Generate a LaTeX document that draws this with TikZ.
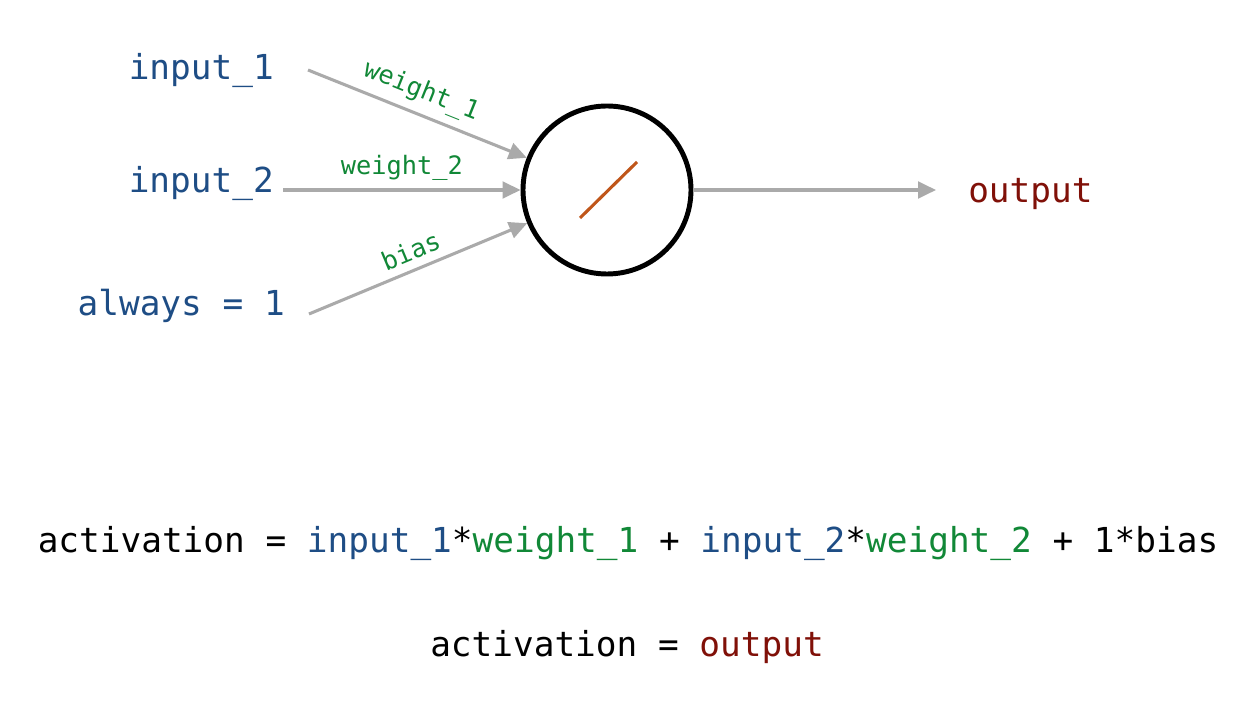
\documentclass[tikz,border=0pt]{standalone}
\usepackage{fontspec}
\setmonofont{DejaVu Sans Mono}
\usetikzlibrary{arrows.meta}
\definecolor{inblue}{RGB}{30,77,133}
\definecolor{wgreen}{RGB}{17,136,55}
\definecolor{outred}{RGB}{128,16,8}
\definecolor{fnorange}{RGB}{192,86,26}
\definecolor{edgegray}{RGB}{170,170,170}
\tikzset{
  big/.style={font=\ttfamily\fontsize{25.8}{30}\selectfont, inner sep=0pt},
  small/.style={font=\ttfamily\fontsize{19}{22}\selectfont, inner sep=0pt, text=wgreen},
  edge/.style={draw=edgegray, line width=2.3pt, -{Triangle[length=13.5pt,width=12.5pt]}},
  neuron/.style={circle, draw=black, line width=3.7pt, minimum size=126pt, inner sep=0pt}
}
\begin{document}
\begin{tikzpicture}[x=0.75pt,y=-0.75pt]
\useasboundingbox[fill=white] (0,0) rectangle (1254,712);

% input labels
\node[big, text=inblue, anchor=base east] (in1) at (274,80) {input\_1};
\node[big, text=inblue, anchor=base east] (in2) at (274,193) {input\_2};
\node[big, text=inblue, anchor=base east] (in3) at (285,316) {always = 1};

% arrow start points
\coordinate (s1) at (308,70);
\coordinate (s2) at (283,190);
\coordinate (s3) at (309,314);

% the neuron with its linear activation
\node[neuron] (n) at (607,190) {};
\draw[fnorange, line width=2.3pt] (580,218) -- (637,162);

% weighted connections
\draw[edge] (s1) -- (n) node[small, pos=0.48, above=6pt, sloped] (w1) {weight\_1};
\draw[edge] (s2) -- (n) node[small, pos=0.5, above=6pt] (w2) {weight\_2};
\draw[edge] (s3) -- (n) node[small, pos=0.5, above=6pt, sloped] (b) {bias};

% output
\coordinate (o) at (936,190);
\draw[edge] (n) -- (o);
\node[big, text=outred, anchor=base west] (out) at (968,203) {output};

% equations
\node[big, anchor=base] (eq1) at (628,553) {activation = \textcolor{inblue}{input\_1}*\textcolor{wgreen}{weight\_1} + \textcolor{inblue}{input\_2}*\textcolor{wgreen}{weight\_2} + 1*bias};
\node[big, anchor=base] (eq2) at (627,657) {activation = \textcolor{outred}{output}};
\end{tikzpicture}
\end{document}
